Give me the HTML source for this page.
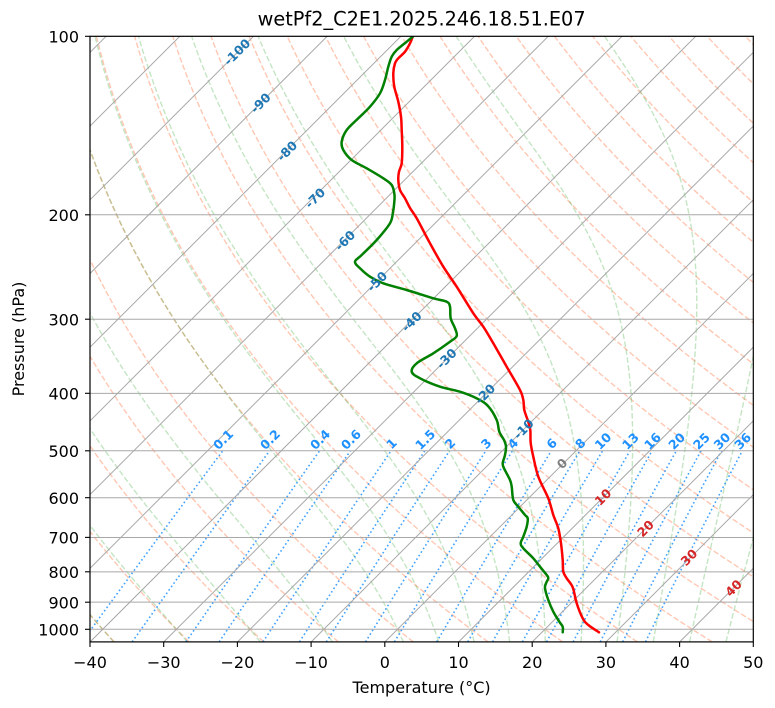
<!DOCTYPE html>
<html>
<head>
<meta charset="utf-8">
<style>
  html,body{margin:0;padding:0;background:#fff;}
  svg{display:block;font-family:"DejaVu Sans","Liberation Sans",sans-serif;}
  .tk{font-size:16px;fill:#000;}
  .ml{font-size:12.5px;font-weight:bold;fill:#1e90ff;}
  .il{font-size:12.5px;font-weight:bold;}
</style>
</head>
<body>
<svg id="s" xmlns="http://www.w3.org/2000/svg" width="775" height="708" viewBox="0 0 775 708">
  <defs>
    <clipPath id="c"><rect x="90" y="36.3" width="663.3" height="605.6"/></clipPath>
  </defs>
  <rect x="0" y="0" width="775" height="708" fill="#fff"/>
  <g id="bgDry" clip-path="url(#c)" fill="none" stroke="rgb(255,69,0)" stroke-opacity="0.3" stroke-width="1.4" stroke-dasharray="5.6 2.4"></g>
  <g id="bgMoist" clip-path="url(#c)" fill="none" stroke="rgb(44,160,44)" stroke-opacity="0.28" stroke-width="1.4" stroke-dasharray="5.6 2.4"></g>
  <g id="bgMix" clip-path="url(#c)" fill="none" stroke="#1e90ff" stroke-opacity="0.85" stroke-width="1.6" stroke-dasharray="1.6 2.6"></g>
  <g id="grid" clip-path="url(#c)" fill="none" stroke="#a8a8a8" stroke-width="1"></g>

  <!-- profiles -->
  <g clip-path="url(#c)" fill="none" stroke-width="2.5" stroke-linejoin="round" stroke-linecap="round">
    <path id="tp" stroke="#ff0000" d=""/>
    <path id="dp" stroke="#008000" d=""/>
  </g>

  <!-- mixing ratio labels -->
  <g class="ml" text-anchor="middle" dominant-baseline="central">
    <text x="223.1" y="439.5" transform="rotate(-45 223.1 439.5)">0.1</text>
    <text x="270.0" y="439.5" transform="rotate(-45 270.0 439.5)">0.2</text>
    <text x="320.0" y="439.5" transform="rotate(-45 320.0 439.5)">0.4</text>
    <text x="350.9" y="439.5" transform="rotate(-45 350.9 439.5)">0.6</text>
    <text x="391.5" y="443.5" transform="rotate(-45 391.5 443.5)">1</text>
    <text x="425.2" y="439.5" transform="rotate(-45 425.2 439.5)">1.5</text>
    <text x="450.0" y="443.5" transform="rotate(-45 450.0 443.5)">2</text>
    <text x="486.2" y="443.5" transform="rotate(-45 486.2 443.5)">3</text>
    <text x="512.9" y="443.5" transform="rotate(-45 512.9 443.5)">4</text>
    <text x="551.7" y="443.5" transform="rotate(-45 551.7 443.5)">6</text>
    <text x="580.3" y="443.5" transform="rotate(-45 580.3 443.5)">8</text>
    <text x="603.0" y="441" transform="rotate(-45 603.0 441)">10</text>
    <text x="630.4" y="441" transform="rotate(-45 630.4 441)">13</text>
    <text x="652.5" y="441" transform="rotate(-45 652.5 441)">16</text>
    <text x="676.7" y="441" transform="rotate(-45 676.7 441)">20</text>
    <text x="701.4" y="441" transform="rotate(-45 701.4 441)">25</text>
    <text x="722.0" y="441" transform="rotate(-45 722.0 441)">30</text>
    <text x="742.7" y="441" transform="rotate(-45 742.7 441)">36</text>
  </g>

  <!-- isotherm labels -->
  <g class="il" text-anchor="middle" dominant-baseline="central">
    <text fill="#1f77b4" x="237" y="52" transform="rotate(-45 237 52)">-100</text>
    <text fill="#1f77b4" x="260.5" y="103" transform="rotate(-45 260.5 103)">-90</text>
    <text fill="#1f77b4" x="287" y="151" transform="rotate(-45 287 151)">-80</text>
    <text fill="#1f77b4" x="315" y="198" transform="rotate(-45 315 198)">-70</text>
    <text fill="#1f77b4" x="345" y="240.5" transform="rotate(-45 345 240.5)">-60</text>
    <text fill="#1f77b4" x="377" y="281.5" transform="rotate(-45 377 281.5)">-50</text>
    <text fill="#1f77b4" x="411.5" y="321.5" transform="rotate(-45 411.5 321.5)">-40</text>
    <text fill="#1f77b4" x="446.5" y="358.5" transform="rotate(-45 446.5 358.5)">-30</text>
    <text fill="#1f77b4" x="485" y="394" transform="rotate(-45 485 394)">-20</text>
    <text fill="#1f77b4" x="523.5" y="429" transform="rotate(-45 523.5 429)">-10</text>
    <text fill="#808080" x="562" y="463.5" transform="rotate(-45 562 463.5)">0</text>
    <text fill="#d62728" x="603" y="497" transform="rotate(-45 603 497)">10</text>
    <text fill="#d62728" x="645.5" y="528.5" transform="rotate(-45 645.5 528.5)">20</text>
    <text fill="#d62728" x="689" y="557.3" transform="rotate(-45 689 557.3)">30</text>
    <text fill="#d62728" x="733.5" y="588" transform="rotate(-45 733.5 588)">40</text>
  </g>

  <!-- axes frame -->
  <rect x="90" y="36.3" width="663.3" height="605.6" fill="none" stroke="#000" stroke-width="1.2"/>

  <!-- x ticks -->
  <g stroke="#000" stroke-width="1.1">
    <line x1="90" y1="641.9" x2="90" y2="647"/>
    <line x1="163.7" y1="641.9" x2="163.7" y2="647"/>
    <line x1="237.4" y1="641.9" x2="237.4" y2="647"/>
    <line x1="311.1" y1="641.9" x2="311.1" y2="647"/>
    <line x1="384.8" y1="641.9" x2="384.8" y2="647"/>
    <line x1="458.5" y1="641.9" x2="458.5" y2="647"/>
    <line x1="532.2" y1="641.9" x2="532.2" y2="647"/>
    <line x1="605.9" y1="641.9" x2="605.9" y2="647"/>
    <line x1="679.6" y1="641.9" x2="679.6" y2="647"/>
    <line x1="753.3" y1="641.9" x2="753.3" y2="647"/>
    <!-- y ticks -->
    <line x1="85" y1="36.3" x2="90" y2="36.3"/>
    <line x1="85" y1="214.8" x2="90" y2="214.8"/>
    <line x1="85" y1="319.2" x2="90" y2="319.2"/>
    <line x1="85" y1="393.3" x2="90" y2="393.3"/>
    <line x1="85" y1="450.8" x2="90" y2="450.8"/>
    <line x1="85" y1="497.7" x2="90" y2="497.7"/>
    <line x1="85" y1="537.4" x2="90" y2="537.4"/>
    <line x1="85" y1="571.8" x2="90" y2="571.8"/>
    <line x1="85" y1="602.2" x2="90" y2="602.2"/>
    <line x1="85" y1="629.3" x2="90" y2="629.3"/>
  </g>

  <g class="tk" text-anchor="middle">
    <text x="90" y="668">−40</text>
    <text x="163.7" y="668">−30</text>
    <text x="237.4" y="668">−20</text>
    <text x="311.1" y="668">−10</text>
    <text x="384.8" y="668">0</text>
    <text x="458.5" y="668">10</text>
    <text x="532.2" y="668">20</text>
    <text x="605.9" y="668">30</text>
    <text x="679.6" y="668">40</text>
    <text x="753.3" y="668">50</text>
  </g>
  <g class="tk" text-anchor="end">
    <text x="79" y="42.5">100</text>
    <text x="79" y="221">200</text>
    <text x="79" y="325.4">300</text>
    <text x="79" y="399.5">400</text>
    <text x="79" y="457">500</text>
    <text x="79" y="503.9">600</text>
    <text x="79" y="543.6">700</text>
    <text x="79" y="578">800</text>
    <text x="79" y="608.4">900</text>
    <text x="79" y="635.5">1000</text>
  </g>

  <text class="tk" x="421.6" y="693" text-anchor="middle">Temperature (°C)</text>
  <text class="tk" x="24" y="339" text-anchor="middle" transform="rotate(-90 24 339)">Pressure (hPa)</text>
  <text x="421.6" y="25.7" text-anchor="middle" font-size="19.3" fill="#000">wetPf2_C2E1.2025.246.18.51.E07</text>
</svg>

<script>
(function(){
  var NS="http://www.w3.org/2000/svg";
  var T=36.3,B=641.9,K=593,XS=7.37,X0=384.9;
  function Y(p){return T+K*Math.log10(p/100);}
  function X(t,p){return X0+XS*t+(B-Y(p));}
  function pd(pts){var s="";for(var i=0;i<pts.length;i++){s+=(i?"L":"M")+pts[i][0].toFixed(2)+","+pts[i][1].toFixed(2);}return s;}
  function add(g,d){var e=document.createElementNS(NS,"path");e.setAttribute("d",d);g.appendChild(e);}

  var P=[];var n=220;
  for(var i=0;i<=n;i++){P.push(1050*Math.pow(100/1050,i/n));}

  // grid
  var g=document.getElementById("grid");
  for(var t=-180;t<=60;t+=10){add(g,pd([[X(t,1050),Y(1050)],[X(t,100),Y(100)]]));}
  for(var p=200;p<=1000;p+=100){add(g,pd([[90,Y(p)],[753.3,Y(p)]]));}

  // dry adiabats
  var gd=document.getElementById("bgDry");
  for(var t0=-40;t0<=270;t0+=10){
    var th=t0+273.15,pts=[];
    for(var i=0;i<P.length;i++){var tk=th*Math.pow(P[i]/1000,0.28571);pts.push([X(tk-273.15,P[i]),Y(P[i])]);}
    add(gd,pd(pts));
  }

  // moist adiabats
  function es(tc){return 6.112*Math.exp(17.67*tc/(tc+243.5));}
  function f(p,tk){var tc=tk-273.15;var e=es(tc);if(e>p*0.5)e=p*0.5;var rs=0.622*e/(p-e);
    var Rd=287.04749,Lv=2.50084e6,Cp=1004.6662,eps=0.622;
    return (Rd*tk+Lv*rs)/(Cp+Lv*Lv*rs*eps/(Rd*tk*tk))/p;}
  var gm=document.getElementById("bgMoist");
  var mt=[-40,-30,-20,-10,0,5,10,15,20,25,30,35,40,45,50];
  for(var j=0;j<mt.length;j++){
    var up=[],tk=mt[j]+273.15,p=1000,h=-2;
    up.push([X(tk-273.15,p),Y(p)]);
    while(p>100.0001){
      var k1=f(p,tk),k2=f(p+h/2,tk+h/2*k1),k3=f(p+h/2,tk+h/2*k2),k4=f(p+h,tk+h*k3);
      tk+=h/6*(k1+2*k2+2*k3+k4);p+=h;up.push([X(tk-273.15,p),Y(p)]);
    }
    var dn=[],tk2=mt[j]+273.15,p2=1000,h2=2;
    while(p2<1050-0.0001){
      var a1=f(p2,tk2),a2=f(p2+h2/2,tk2+h2/2*a1),a3=f(p2+h2/2,tk2+h2/2*a2),a4=f(p2+h2,tk2+h2*a3);
      tk2+=h2/6*(a1+2*a2+2*a3+a4);p2+=h2;dn.push([X(tk2-273.15,p2),Y(p2)]);
    }
    dn.reverse();
    add(gm,pd(dn.concat(up)));
  }

  // mixing ratio lines
  var gx=document.getElementById("bgMix");
  var ws=[0.1,0.2,0.4,0.6,1,1.5,2,3,4,6,8,10,13,16,20,25,30,36];
  for(var j=0;j<ws.length;j++){
    var w=ws[j]/1000,pts=[];
    for(var p=1050;p>=499.99;p-=5){
      var e=p*w/(0.622+w),l=Math.log(e/6.112),td=243.5*l/(17.67-l);
      pts.push([X(td,p),Y(p)]);
    }
    add(gx,pd(pts));
  }

  // profiles with smoothing (Catmull-Rom)
  function smooth(pts){
    var s="M"+pts[0][0]+","+pts[0][1];
    for(var i=0;i<pts.length-1;i++){
      var p0=pts[i>0?i-1:i],p1=pts[i],p2=pts[i+1],p3=pts[i+2<pts.length?i+2:i+1];
      var c1x=p1[0]+(p2[0]-p0[0])/6,c1y=p1[1]+(p2[1]-p0[1])/6;
      var c2x=p2[0]-(p3[0]-p1[0])/6,c2y=p2[1]-(p3[1]-p1[1])/6;
      s+="C"+c1x.toFixed(2)+","+c1y.toFixed(2)+" "+c2x.toFixed(2)+","+c2y.toFixed(2)+" "+p2[0]+","+p2[1];
    }
    return s;
  }
  var TP=[[412.7,36.7],[410,43.3],[405,51.7],[398.3,58.3],[395,63.3],[393.3,73.3],[394.3,86.7],[398.3,101.7],[401,116.7],[401.7,130],[402.3,146.7],[401.7,163.3],[399,171.7],[398.3,180],[400,190],[405,198.3],[410,208],[416.7,218.3],[430,243.3],[443.3,266.7],[456.7,286.7],[473.3,313.3],[483.3,326.7],[493.3,343.3],[506.7,366.7],[520,390],[523.3,400],[524.3,410],[528,421],[530.3,430],[530.7,443],[533.3,456.7],[538.3,476.7],[548.3,498.3],[553.3,515],[558.3,528.3],[561,543.3],[562.7,560],[563.3,571.7],[566.7,578.3],[572.7,587.3],[576.7,603.3],[582.7,618.3],[588.3,625],[599,632.3]];
  var DP=[[412.7,36.7],[406.7,41.7],[396.7,50],[391.7,56.7],[388.3,66.7],[385,80],[380,93.3],[370,106.7],[358.3,118.3],[346.7,130],[341.7,141.7],[343.3,150],[351.7,160],[366.7,168.3],[383.3,178.3],[391.7,185],[394.5,195],[394,205],[393,212],[390,223.3],[376.7,240],[361.7,255],[355,261.7],[360,268.3],[370,276.7],[383.3,283.3],[406.7,290],[433.3,298.3],[446.7,301.7],[450,306.7],[450.7,318.3],[455,328.3],[456.7,336],[450,341.7],[433.3,353.3],[416.7,363.3],[411.7,371.7],[420,378.3],[440,386.7],[460,391.7],[477,398.5],[488,406],[496.7,420],[499.3,431.7],[504,440],[506,446.7],[505,455],[502.7,463.3],[504,468.3],[510,480],[511.7,486.7],[513.3,500],[518.3,506.7],[525,515],[527.7,518.3],[526.7,526.7],[523.3,536.7],[520.7,543.3],[523.3,548.3],[533.3,558.3],[540,566.7],[546.7,575],[548.3,578.3],[546,583.3],[545,588.3],[548.3,600],[553.3,611.7],[559.3,621.7],[562.7,626.7],[562.7,632.3]];
  document.getElementById("tp").setAttribute("d",smooth(TP));
  document.getElementById("dp").setAttribute("d",smooth(DP));
})();
</script>
</body>
</html>
